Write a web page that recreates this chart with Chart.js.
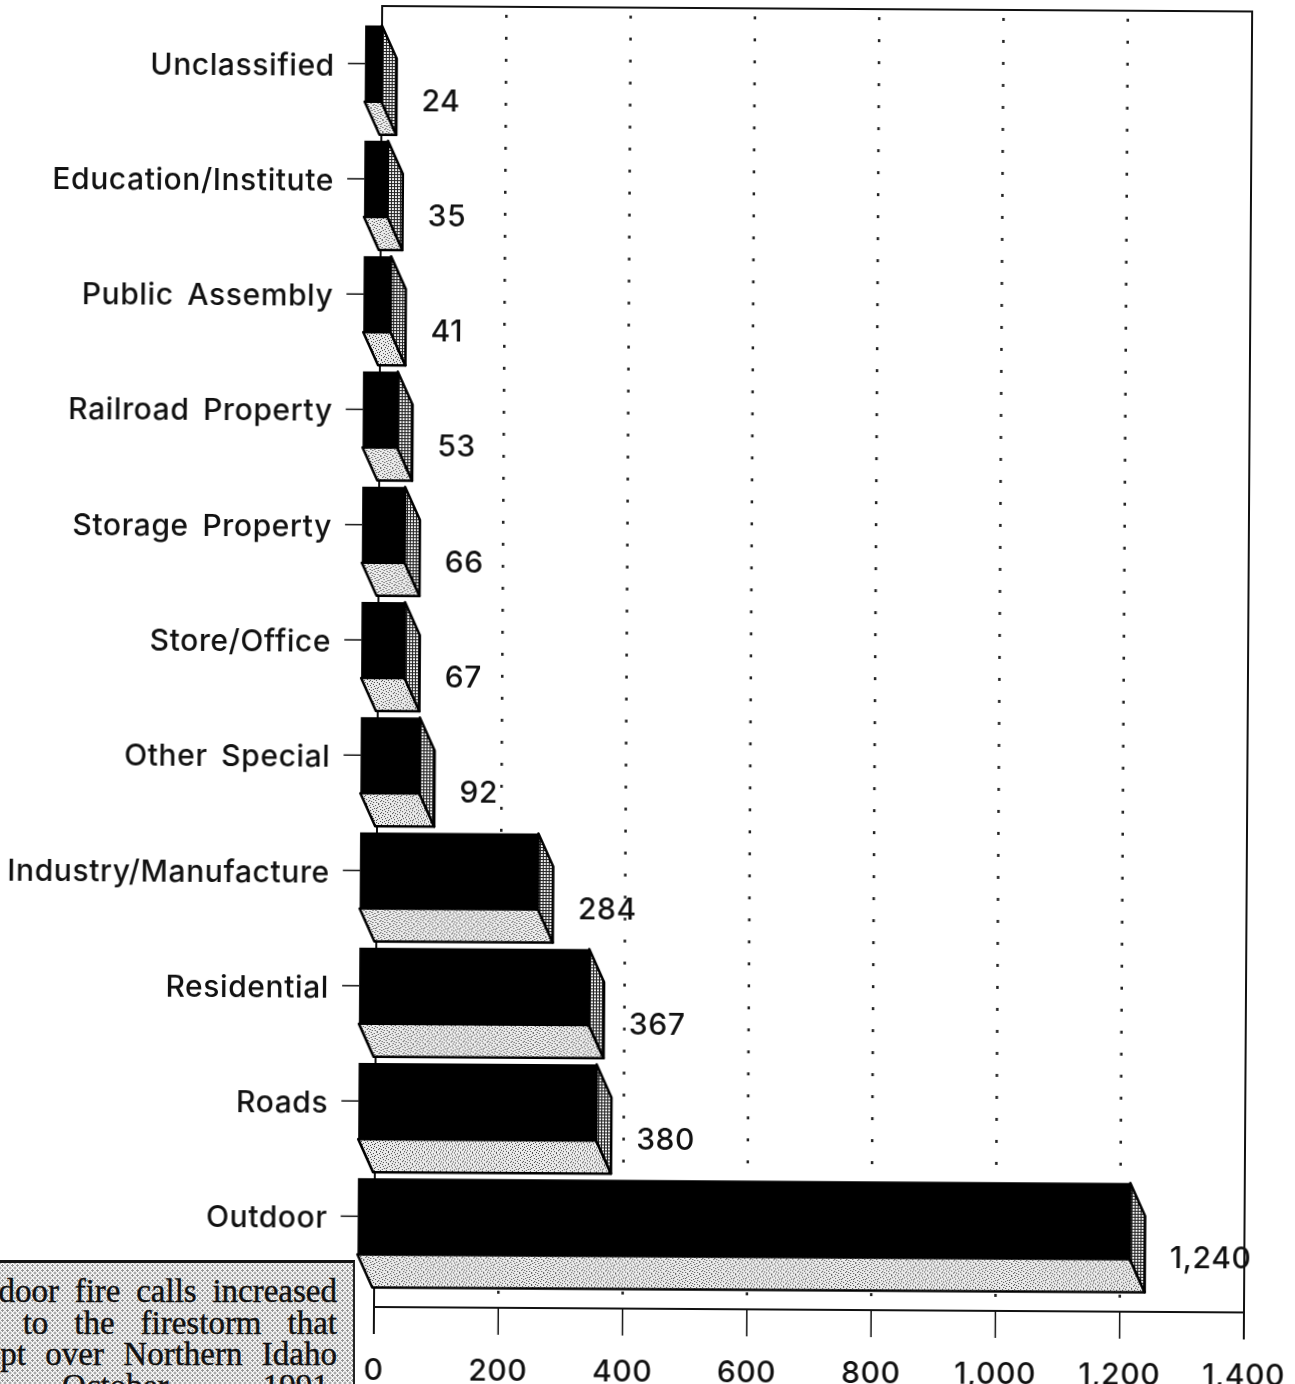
<!DOCTYPE html>
<html>
<head>
<meta charset="utf-8">
<script src="https://cdn.jsdelivr.net/npm/chart.js@4"></script>
<style>
html, body { margin: 0; padding: 0; background: #fff; width: 1295px; height: 1384px; overflow: hidden; position: relative; }
/* the scan is slightly tilted, so the whole chart is too */
#grafico { display: block; transform: rotate(0.36deg); transform-origin: 374px 1306px; }
#nota {
    position: absolute; left: -60px; top: 1260px; width: 415px; height: 140px; box-sizing: border-box;
    border-top: 3px solid #111; border-right: 2px solid #222; padding: 13px 16px 0 9px;
    background-color: #f8f8f8;
    background-image: radial-gradient(#949494 1px, transparent 1.4px), radial-gradient(#949494 1px, transparent 1.4px);
    background-size: 5px 5px; background-position: 0 0, 2.5px 2.5px;
    font: 33px/31.5px "Liberation Serif", serif; color: #111; -webkit-text-stroke: 0.4px #111;
}
#nota div { text-align: justify; text-align-last: justify; white-space: nowrap; }
</style>
</head>
<body>
<canvas id="grafico" width="1295" height="1384"></canvas>
<div id="nota"></div>
<script>
const categorias = ['Unclassified', 'Education/Institute', 'Public Assembly', 'Railroad Property', 'Storage Property',
    'Store/Office', 'Other Special', 'Industry/Manufacture', 'Residential', 'Roads', 'Outdoor'];
const valores = [24, 35, 41, 53, 66, 67, 92, 284, 367, 380, 1240];
const rotulosValor = ['24', '35', '41', '53', '66', '67', '92', '284', '367', '380', '1,240'];
const rotulosEixo = ['0', '200', '400', '600', '800', '1,000', '1,200', '1,400'];
const linhasNota = ['Outdoor fire calls increased', 'due to the firestorm that', 'swept over Northern Idaho', 'in October, 1991.'];

document.getElementById('nota').innerHTML = linhasNota.map(l => `<div>${l}</div>`).join('');

const FONTE = 'Inter, "Liberation Sans", sans-serif';
const dx = 15, dy = 33;

// small repeating tiles for the two shaded bar faces
function criarPadrao(ctx, linhas, cor, fundo) {
    const c = document.createElement('canvas');
    c.width = linhas[0].length;
    c.height = linhas.length;
    const t = c.getContext('2d');
    t.fillStyle = fundo;
    t.fillRect(0, 0, c.width, c.height);
    t.fillStyle = cor;
    linhas.forEach((l, y) => {
        [...l].forEach((p, x) => {
            if (p == '#') t.fillRect(x, y, 1, 1);
        });
    });
    return ctx.createPattern(c, 'repeat');
}

const tresD = {
    id: 'tresD',
    beforeDraw(chart) {
        chart.ctx.letterSpacing = '0.6px';
        chart.ctx.wordSpacing = '5px';
    },
    beforeDatasetsDraw(chart) {
        const ctx = chart.ctx, a = chart.chartArea, x = chart.scales.x;
        const chao = a.bottom + dy;
        ctx.save();
        // dotted gridlines on the back wall
        ctx.strokeStyle = '#222';
        ctx.lineWidth = 2.5;
        ctx.setLineDash([3, 19]);
        x.ticks.forEach((t, i) => {
            if (i == 0 || i == x.ticks.length - 1) return;
            const px = x.getPixelForTick(i);
            ctx.beginPath();
            ctx.moveTo(px, a.top + 8);
            ctx.lineTo(px, chao);
            ctx.stroke();
        });
        ctx.setLineDash([]);
        // wall and floor
        ctx.strokeStyle = '#111';
        ctx.lineWidth = 2;
        ctx.beginPath();
        ctx.moveTo(a.left, chao + 27);
        ctx.lineTo(a.left, a.top);
        ctx.lineTo(a.right, a.top);
        ctx.lineTo(a.right, chao + 27);
        ctx.moveTo(a.left, chao);
        ctx.lineTo(a.right, chao);
        ctx.stroke();
        // x axis ticks
        ctx.lineWidth = 1.5;
        x.ticks.forEach((t, i) => {
            const px = x.getPixelForTick(i);
            ctx.beginPath();
            ctx.moveTo(px, chao);
            ctx.lineTo(px, chao + 27);
            ctx.stroke();
        });
        ctx.restore();
    },
    beforeDatasetDraw(chart, args) {
        const ctx = chart.ctx;
        const cinza = criarPadrao(ctx, [
            '#.....#.....', '...#.....#..', '.#.....#....', '.....#....#.', '..#.#.......', '#.......#...',
            '....#.....#.', '.#....#.....', '...#.....#..', '........#..#', '.#..#.......', '......#...#.'
        ], '#444', '#ececec');
        const grade = criarPadrao(ctx, ['###', '#..', '#..'], '#222', '#f0f0f0');
        ctx.save();
        ctx.translate(-dx, 0);
        ctx.lineJoin = 'round';
        args.meta.data.forEach(b => {
            const topo = b.y - b.height / 2, baixo = b.y + b.height / 2;
            ctx.lineWidth = 2.5;
            ctx.strokeStyle = '#000';
            ctx.fillStyle = cinza;
            ctx.beginPath();
            ctx.moveTo(b.base, baixo);
            ctx.lineTo(b.x, baixo);
            ctx.lineTo(b.x + dx, baixo + dy);
            ctx.lineTo(b.base + dx, baixo + dy);
            ctx.closePath();
            ctx.fill();
            ctx.stroke();
            ctx.fillStyle = grade;
            ctx.beginPath();
            ctx.moveTo(b.x, topo);
            ctx.lineTo(b.x + dx, topo + dy);
            ctx.lineTo(b.x + dx, baixo + dy);
            ctx.lineTo(b.x, baixo);
            ctx.closePath();
            ctx.fill();
            ctx.stroke();
        });
    },
    afterDatasetDraw(chart) {
        chart.ctx.restore();
    },
    afterDatasetsDraw(chart) {
        const ctx = chart.ctx;
        ctx.save();
        chart.getDatasetMeta(0).data.forEach((b, i) => {
            // tick from the label to the front of the bar
            ctx.strokeStyle = '#111';
            ctx.lineWidth = 1.5;
            ctx.beginPath();
            ctx.moveTo(b.base - dx - 17, b.y);
            ctx.lineTo(b.base - dx, b.y);
            ctx.stroke();
            ctx.fillStyle = '#111';
            ctx.font = '500 30px ' + FONTE;
            ctx.textAlign = 'left';
            ctx.textBaseline = 'middle';
            ctx.fillText(rotulosValor[i], b.x + 25, b.y + 38);
        });
        ctx.restore();
    }
};

new Chart(document.getElementById('grafico'), {
    type: 'bar',
    data: {
        labels: categorias,
        datasets: [{
            data: valores,
            base: -3,
            clip: false,
            backgroundColor: '#000',
            barPercentage: 0.66,
            categoryPercentage: 1
        }]
    },
    plugins: [tresD],
    options: {
        indexAxis: 'y',
        responsive: false,
        animation: false,
        layout: { padding: { top: 6, right: 51, left: 0, bottom: 0 } },
        plugins: { legend: { display: false }, tooltip: { enabled: false } },
        scales: {
            x: {
                position: 'bottom',
                min: 0,
                max: 1400,
                grid: { display: false },
                border: { display: false },
                ticks: {
                    stepSize: 200,
                    autoSkip: false,
                    maxRotation: 0,
                    padding: 71,
                    color: '#111',
                    font: { family: FONTE, size: 30, weight: '500' },
                    callback: (v, i) => rotulosEixo[i]
                },
                afterFit: s => {
                    s.height = 110;
                    s.paddingLeft = 0;
                    s.paddingRight = 0;
                }
            },
            y: {
                grid: { display: false, drawTicks: false },
                border: { display: false },
                ticks: {
                    autoSkip: false,
                    padding: 47,
                    labelOffset: 3,
                    color: '#111',
                    font: { family: FONTE, size: 30, weight: '500' }
                },
                afterFit: s => {
                    s.width = 374;
                    s.paddingTop = 0;
                    s.paddingBottom = 0;
                }
            }
        }
    }
});
</script>
</body>
</html>
